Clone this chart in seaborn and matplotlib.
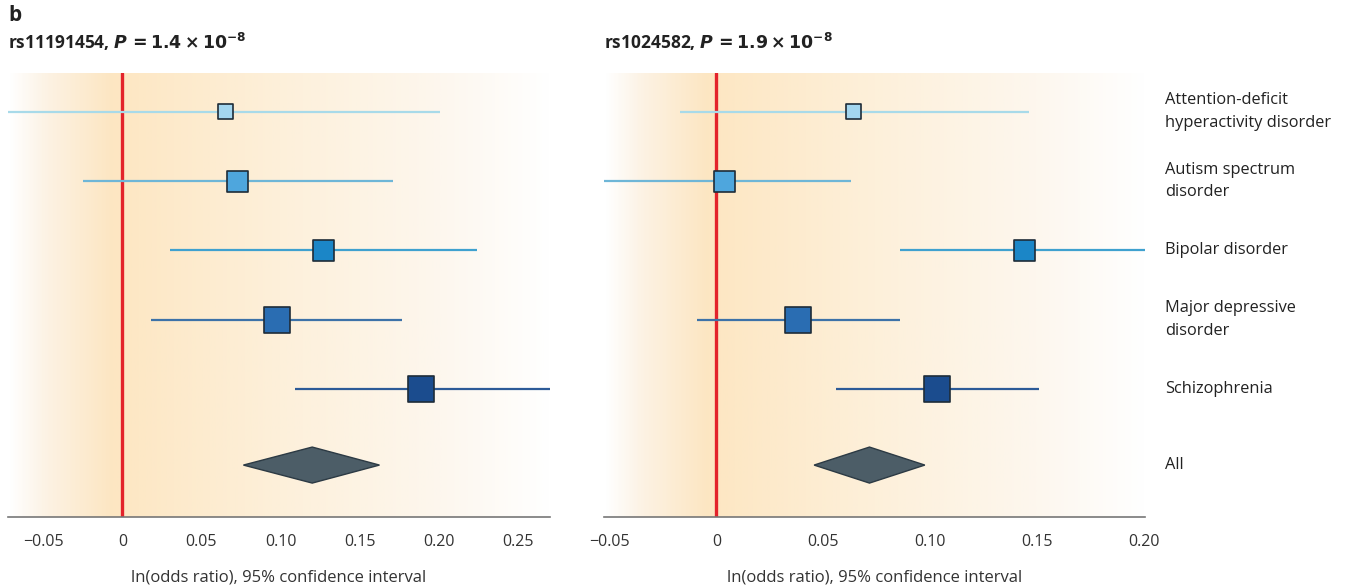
import numpy as np
import pandas as pd
import matplotlib
matplotlib.use("Agg")
import matplotlib.pyplot as plt
from matplotlib.colors import LinearSegmentedColormap
import seaborn as sns

# categories (top to bottom) and their row position
disorders = ["Attention-deficit\nhyperactivity disorder", "Autism spectrum\ndisorder",
             "Bipolar disorder", "Major depressive\ndisorder", "Schizophrenia"]
row_pos = [0, 1, 2, 3, 4]
all_label = "All"
all_pos = 5.1

# rs11191454 (left panel)
left_est = [0.065, 0.073, 0.127, 0.098, 0.189]
left_lo = [-0.080, -0.025, 0.030, 0.018, 0.109]
left_hi = [0.201, 0.171, 0.224, 0.177, 0.290]
left_all = (0.0765, 0.120, 0.1625)

# rs1024582 (right panel)
right_est = [0.064, 0.004, 0.144, 0.038, 0.103]
right_lo = [-0.017, -0.060, 0.086, -0.009, 0.056]
right_hi = [0.146, 0.063, 0.220, 0.086, 0.151]
right_all = (0.0457, 0.0716, 0.0975)

fill_colors = ["#a3d6ef", "#4ea6dd", "#1b86c7", "#2a6db2", "#1b4c8e"]
line_colors = ["#a8dae9", "#6eb6d7", "#3fa1cf", "#3d72a8", "#2c5a97"]
marker_sizes = [120, 230, 230, 350, 350]

sns.set_style("white")
plt.rcParams['font.family'] = ['Open Sans', 'DejaVu Sans']
plt.rcParams['mathtext.fontset'] = 'dejavusans'

bg_cmap = LinearSegmentedColormap.from_list(
    "bg", [(0.0, "#ffffff"), (0.07, "#fcf2e3"), (0.19, "#fde6c2"), (0.24, "#fde8c6"),
           (0.5, "#fdf0da"), (0.8, "#fdf7ee"), (1.0, "#ffffff")])

fig = plt.figure(figsize=(13.68, 5.85), dpi=100)
ax_l = fig.add_axes([0.00585, 0.1162, 0.3962, 0.759])
ax_r = fig.add_axes([0.4415, 0.1162, 0.3955, 0.759])


def draw_panel(ax, est, lo, hi, summary, xlim, ticks, ticklabels, title):
    grad = np.linspace(0, 1, 400).reshape(1, -1)
    ax.imshow(grad, cmap=bg_cmap, aspect="auto", extent=[0, 1, 0, 1],
              transform=ax.transAxes, zorder=0)
    ax.axvline(0, color="#e3232b", lw=2.4, zorder=2)

    df = pd.DataFrame({"disorder": disorders, "pos": row_pos,
                       "est": est, "lo": lo, "hi": hi})
    for i, r in df.iterrows():
        ax.hlines(r["pos"], r["lo"], r["hi"], color=line_colors[i], lw=1.6, zorder=3)
    sns.scatterplot(data=df, x="est", y="pos", hue="disorder", size="disorder",
                    palette=dict(zip(disorders, fill_colors)),
                    sizes=dict(zip(disorders, marker_sizes)),
                    marker="s", edgecolor="#1e2c38", linewidth=1.2,
                    legend=False, ax=ax, zorder=4)

    a_lo, a_est, a_hi = summary
    h = 0.26
    ax.fill([a_lo, a_est, a_hi, a_est], [all_pos, all_pos - h, all_pos, all_pos + h],
            facecolor="#4c5d67", edgecolor="#2c3a44", lw=1.0, zorder=4)

    ax.set_xlim(*xlim)
    ax.set_ylim(5.85, -0.56)
    ax.set_xticks(ticks)
    ax.set_xticklabels(ticklabels, fontsize=11.5, color="#333333")
    ax.set_yticks([])
    ax.set_xlabel("ln(odds ratio), 95% confidence interval", fontsize=12,
                  color="#333333", labelpad=14)
    ax.set_ylabel("")
    for s in ["left", "right", "top"]:
        ax.spines[s].set_visible(False)
    ax.spines["bottom"].set_color("#777777")
    ax.spines["bottom"].set_linewidth(1.2)
    ax.tick_params(axis="x", direction="out", length=9, width=1.2, color="#777777", pad=3)
    ax.text(0.0, 1.045, title, transform=ax.transAxes, fontsize=12.5,
            fontweight="bold", ha="left", va="bottom", color="#222222")


draw_panel(ax_l, left_est, left_lo, left_hi, left_all, (-0.0723, 0.2703),
           [-0.05, 0, 0.05, 0.10, 0.15, 0.20, 0.25],
           ["\u22120.05", "0", "0.05", "0.10", "0.15", "0.20", "0.25"],
           r"rs11191454, $\mathbfit{P}\,\mathbf{=1.4\times10^{-8}}$")
draw_panel(ax_r, right_est, right_lo, right_hi, right_all, (-0.0526, 0.2005),
           [-0.05, 0, 0.05, 0.10, 0.15, 0.20],
           ["\u22120.05", "0", "0.05", "0.10", "0.15", "0.20"],
           r"rs1024582, $\mathbfit{P}\,\mathbf{=1.9\times10^{-8}}$")

# category labels on the right
for lab, p in zip(disorders + [all_label], row_pos + [all_pos]):
    ax_r.text(1.037, p, lab, transform=ax_r.get_yaxis_transform(), fontsize=11.8,
              ha="left", va="center", color="#222222", linespacing=1.55)

fig.text(0.006, 0.955, "b", fontsize=15, fontweight="bold", color="#222222",
         ha="left", va="bottom")

fig.savefig("out.png", dpi=100, facecolor="white")
